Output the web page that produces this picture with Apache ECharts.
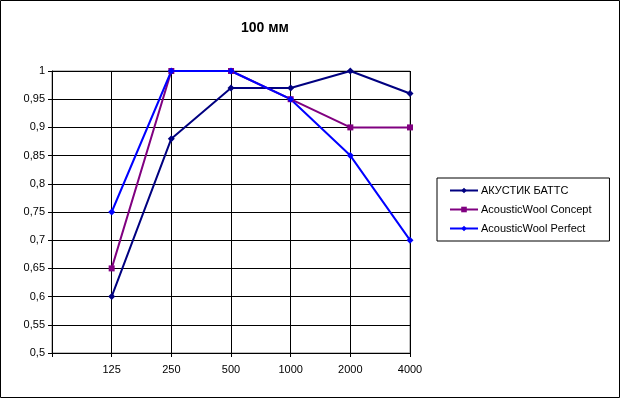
<!DOCTYPE html>
<html>
<head>
<meta charset="utf-8">
<script src="https://cdn.jsdelivr.net/npm/echarts@6/dist/echarts.min.js"></script>
<style>
  html, body { margin: 0; padding: 0; background: #fff; }
  #chart { width: 621px; height: 399px; }
</style>
</head>
<body>
<div id="chart"></div>
<script>
// частоты, Гц (первая пустая позиция — как в исходном графике)
const categories = ['', '125', '250', '500', '1000', '2000', '4000']
const seriesNames = ['АКУСТИК БАТТС', 'AcousticWool Concept', 'AcousticWool Perfect']
const battsValues = [null, 0.6, 0.88, 0.97, 0.97, 1.0, 0.96]
const conceptValues = [null, 0.65, 1.0, 1.0, 0.95, 0.9, 0.9]
const perfectValues = [null, 0.75, 1.0, 1.0, 0.95, 0.85, 0.7]

const font = 'Liberation Sans, Arial, sans-serif'

function makeSeries(name, data, color, symbol, size) {
  return {
    name: name,
    type: 'line',
    data: data,
    symbol: symbol,
    symbolSize: size,
    showAllSymbol: true,
    lineStyle: { color: color, width: 2 },
    itemStyle: { color: color },
    emphasis: { disabled: true },
    animation: false
  }
}

const option = {
  animation: false,
  title: {
    text: '100 мм',
    left: 236,
    top: 16,
    textStyle: { fontFamily: font, fontSize: 14, fontWeight: 'bold', color: '#000' }
  },
  graphic: [{
    type: 'rect',
    shape: { x: 0.5, y: 0.5, width: 619, height: 397 },
    style: { fill: 'none', stroke: '#000', lineWidth: 1 },
    silent: true
  }],
  grid: { left: 52, right: 211, top: 71, bottom: 46, show: true, borderColor: '#808080', borderWidth: 1 },
  legend: {
    orient: 'vertical',
    left: 437,
    top: 178,
    padding: [7, 18, 7, 12],
    itemGap: 8,
    itemWidth: 28,
    itemHeight: 7,
    borderColor: '#000',
    borderWidth: 1,
    textStyle: { fontFamily: font, fontSize: 11, color: '#000', padding: [0, 0, 0, -2] },
    data: seriesNames
  },
  xAxis: {
    type: 'category',
    data: categories,
    boundaryGap: false,
    axisLine: { lineStyle: { color: '#000', width: 1 } },
    axisTick: { show: true, length: 4, lineStyle: { color: '#000' } },
    axisLabel: { color: '#000', fontFamily: font, fontSize: 11, margin: 11, interval: 0 },
    splitLine: { show: true, lineStyle: { color: '#000', width: 1 } }
  },
  yAxis: {
    type: 'value',
    min: 0.5,
    max: 1,
    interval: 0.05,
    axisLine: { show: true, lineStyle: { color: '#000', width: 1 } },
    axisTick: { show: true, length: 4, lineStyle: { color: '#000' } },
    axisLabel: {
      color: '#000',
      fontFamily: font,
      fontSize: 11,
      margin: 7,
      formatter: v => String(Math.round(v * 100) / 100).replace('.', ',')
    },
    splitLine: { show: true, lineStyle: { color: '#000', width: 1 } }
  },
  series: [
    makeSeries(seriesNames[0], battsValues, '#000080', 'diamond', 7),
    makeSeries(seriesNames[1], conceptValues, '#800080', 'rect', 6),
    makeSeries(seriesNames[2], perfectValues, '#0000FF', 'diamond', 7)
  ]
}

const myChart = echarts.init(document.getElementById('chart'))
myChart.setOption(option)
</script>
</body>
</html>
